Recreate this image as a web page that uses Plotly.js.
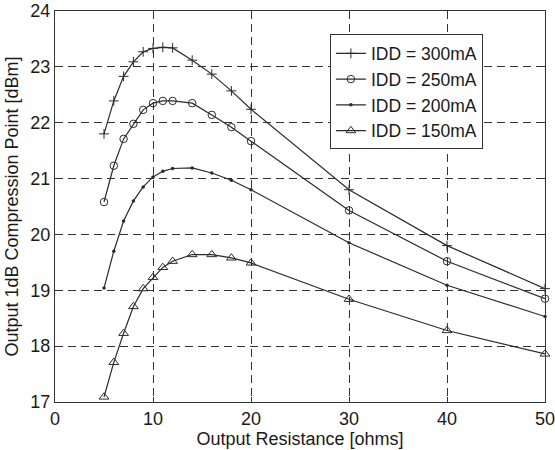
<!DOCTYPE html>
<html>
<head>
<meta charset="utf-8">
<script src="https://cdn.plot.ly/plotly-3.0.1.min.js"></script>
<style>html,body{margin:0;padding:0;background:#fff;}#chart{width:555px;height:450px;}</style>
</head>
<body>
<div id="chart"></div>
<script>
const resistance = [5, 6, 7, 8, 9, 10, 11, 12, 14, 16, 18, 20, 30, 40, 50];
const idd300 = [21.80, 22.39, 22.83, 23.09, 23.27, 23.33, 23.35, 23.34, 23.12, 22.87, 22.57, 22.24, 20.80, 19.80, 19.03];
const idd250 = [20.58, 21.23, 21.71, 21.98, 22.23, 22.35, 22.39, 22.39, 22.35, 22.14, 21.92, 21.67, 20.43, 19.52, 18.85];
const idd200 = [19.04, 19.70, 20.24, 20.60, 20.85, 21.03, 21.13, 21.18, 21.19, 21.10, 20.97, 20.80, 19.85, 19.09, 18.53];
const idd150 = [17.09, 17.71, 18.23, 18.71, 19.03, 19.23, 19.41, 19.52, 19.64, 19.64, 19.58, 19.49, 18.84, 18.28, 17.86];
const seriesNames = ['IDD = 300mA', 'IDD = 250mA', 'IDD = 200mA', 'IDD = 150mA'];
const xTicks = [0, 10, 20, 30, 40, 50];
const yTicks = [17, 18, 19, 20, 21, 22, 23, 24];

const lineColor = '#2b2b2b';
const font = {family: 'Liberation Sans, Arial, sans-serif', size: 18, color: '#1a1a1a'};
const legendFont = {family: 'Liberation Sans, Arial, sans-serif', size: 17.5, color: '#1a1a1a'};

const traces = [
  {y: idd300, name: seriesNames[0], marker: {symbol: 'cross-thin-open', size: 7, color: lineColor, line: {width: 1, color: lineColor}}},
  {y: idd250, name: seriesNames[1], marker: {symbol: 'circle-open', size: 7.5, color: lineColor, line: {width: 1, color: lineColor}}},
  {y: idd200, name: seriesNames[2], marker: {symbol: 'circle', size: 3.5, color: lineColor}},
  {y: idd150, name: seriesNames[3], marker: {symbol: 'triangle-up-open', size: 8.5, color: lineColor, line: {width: 1, color: lineColor}}}
].map(t => Object.assign({
  x: resistance, type: 'scatter', mode: 'lines+markers', cliponaxis: false,
  line: {color: lineColor, width: 1.2}
}, t));

const axisCommon = {
  showline: true, mirror: 'ticks', linecolor: '#333', linewidth: 1,
  ticks: 'inside', ticklen: 5, tickcolor: '#333',
  showgrid: true, gridcolor: '#333', gridwidth: 1, griddash: '8px,5px',
  zeroline: false, tickfont: font, ticklabeloverflow: 'allow'
};

const layout = {
  width: 555, height: 450,
  margin: {l: 55, r: 10, t: 11, b: 48},
  paper_bgcolor: '#ffffff', plot_bgcolor: '#ffffff',
  font: font,
  showlegend: true,
  legend: {
    x: 0.561, y: 0.94, xanchor: 'left', yanchor: 'top',
    bgcolor: '#ffffff', bordercolor: '#333', borderwidth: 1,
    font: legendFont, tracegroupgap: 0, itemwidth: 30
  },
  xaxis: Object.assign({}, axisCommon, {
    range: [0, 50], tickvals: xTicks, ticktext: xTicks.map(String),
    title: {text: 'Output Resistance [ohms]', font: font, standoff: 0}
  }),
  yaxis: Object.assign({}, axisCommon, {
    range: [17, 24], tickvals: yTicks, ticktext: yTicks.map(String),
    title: {text: 'Output 1dB Compression Point [dBm]', font: font, standoff: 7}
  })
};

Plotly.newPlot('chart', traces, layout, {displayModeBar: false, staticPlot: true});
</script>
</body>
</html>
